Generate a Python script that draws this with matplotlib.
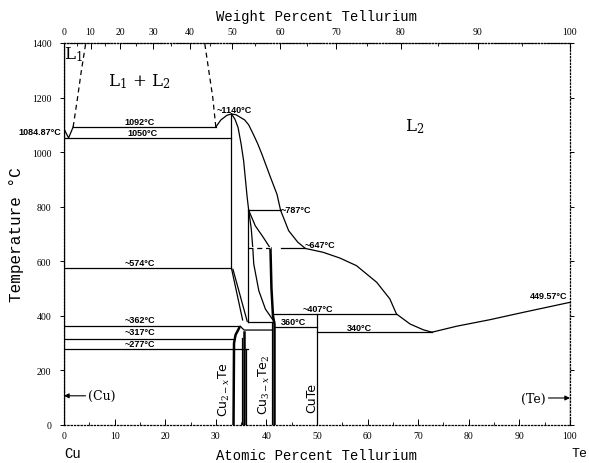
import matplotlib.pyplot as plt
import numpy as np

plt.rcParams['mathtext.fontset'] = 'dejavuserif'

# --- data (x = at.% Te, T = degC) ---
cu_liq_x = [0, 0.9, 1.8]
cu_liq_t = [1084.87, 1052, 1092]

gap_left_x = [1.8, 2.6, 3.4, 4.3]
gap_left_t = [1092, 1190, 1295, 1400]
gap_right_x = [30.0, 29.4, 28.6, 27.8]
gap_right_t = [1092, 1200, 1300, 1400]

dome_left_x = [30.0, 31.0, 32.2, 33.1]
dome_left_t = [1092, 1118, 1135, 1140]

liq_x = [33.1, 34.0, 34.8, 35.7, 36.5, 37.4, 38.3, 39.1, 40.7, 42.1, 42.8, 44.4, 46.2, 47.7,
         51.2, 54.5, 57.8, 61.8, 64.4, 65.7, 68.4, 71.0, 72.7]
liq_t = [1140, 1137, 1128, 1118, 1100, 1066, 1030, 993, 913, 845, 787, 712, 670, 647,
         633, 612, 584, 523, 462, 407, 370, 349, 340]

te_liq_x = [72.7, 77.6, 84.2, 90.8, 100]
te_liq_t = [340, 362, 386, 413, 449.57]

inner_x = [33.1, 33.8, 34.4, 35.0, 35.5, 36.2, 36.5]
inner_t = [1140, 1120, 1090, 1030, 968, 834, 787]

c1_x = [36.5, 37.0, 37.3, 37.5, 38.5, 39.8, 41.1, 41.6]
c1_t = [787, 720, 651, 590, 492, 425, 390, 378]
c2_x = [36.5, 37.8, 39.3, 40.8]
c2_t = [787, 730, 690, 647]

cu3_thick_x = [40.8, 41.0, 41.3, 41.6, 41.6]
cu3_thick_t = [647, 500, 400, 370, 0]

slant1_x = [33.1, 35.3]
slant1_t = [574, 385]
slant2_x = [33.4, 36.2]
slant2_t = [570, 380]

cu2_left_x = [34.6, 33.9, 33.6, 33.5]
cu2_left_t = [355, 330, 300, 0]
cu2_junc_x = [34.8, 35.6, 41.2]
cu2_junc_t = [362, 348, 348]

# horizontal invariant lines: (x0, x1, T)
iso_x0 = [1.8, 0, 0, 0, 0, 0, 36.3, 42.8, 36.3, 41.2, 41.6, 50]
iso_x1 = [30.0, 33.1, 33.1, 34.8, 33.6, 36.3, 42.8, 47.7, 41.2, 65.7, 50, 72.7]
iso_t = [1092, 1050, 574, 362, 317, 277, 787, 647, 378, 407, 360, 340]

# vertical lines: (x, T0, T1)
vert_x = [33.1, 36.3, 41.2, 50, 35.1, 35.5, 36.0]
vert_t0 = [574, 378, 0, 0, 0, 0, 0]
vert_t1 = [1140, 787, 378, 407, 320, 340, 277]
vert_lw = [0.9, 0.9, 0.9, 0.9, 0.9, 1.8, 0.9]

labels = ['1092°C', '1050°C', '~1140°C', '~787°C', '~647°C', '~574°C',
          '~362°C', '~317°C', '~277°C', '360°C', '~407°C', '340°C']
label_x = [15.0, 15.5, 30.2, 42.9, 47.5, 15.0, 15.0, 15.0, 15.0, 45.4, 50.2, 58.3]
label_t = [1112, 1071, 1155, 790, 662, 595, 388, 341, 298, 378, 428, 358]
label_ha = ['center', 'center', 'left', 'left', 'left', 'center',
            'center', 'center', 'center', 'center', 'center', 'center']

wt_ticks = list(range(0, 101, 10))
at_ticks = list(range(0, 101, 10))
t_ticks = list(range(0, 1401, 200))

M_CU, M_TE = 63.546, 127.6


def at2wt(a):
    a = np.asarray(a, dtype=float)
    with np.errstate(divide='ignore', invalid='ignore'):
        return 100 * a * M_TE / (a * M_TE + (100 - a) * M_CU)


def wt2at(w):
    w = np.asarray(w, dtype=float)
    with np.errstate(divide='ignore', invalid='ignore'):
        return 100 * (w / M_TE) / (w / M_TE + (100 - w) / M_CU)


dpi = 100
fig = plt.figure(figsize=(589 / dpi, 464 / dpi), dpi=dpi)
ax = fig.add_axes([0.1087, 0.0819, 0.859, 0.8233])
ax.set_xlim(0, 100)
ax.set_ylim(0, 1400)

lw = 0.9
k = 'black'
ax.plot(cu_liq_x, cu_liq_t, color=k, lw=lw)
ax.plot(gap_left_x, gap_left_t, color=k, lw=lw, ls=(0, (4, 3)))
ax.plot(gap_right_x, gap_right_t, color=k, lw=lw, ls=(0, (4, 3)))
ax.plot(dome_left_x, dome_left_t, color=k, lw=lw)
ax.plot(liq_x, liq_t, color=k, lw=lw)
ax.plot(te_liq_x, te_liq_t, color=k, lw=lw)
ax.plot(inner_x, inner_t, color=k, lw=lw)
ax.plot(c1_x, c1_t, color=k, lw=lw)
ax.plot(c2_x, c2_t, color=k, lw=lw)
ax.plot(cu3_thick_x, cu3_thick_t, color=k, lw=1.8)
ax.plot(slant1_x, slant1_t, color=k, lw=lw)
ax.plot(slant2_x, slant2_t, color=k, lw=lw)
ax.plot(cu2_left_x, cu2_left_t, color=k, lw=1.8)
ax.plot(cu2_junc_x, cu2_junc_t, color=k, lw=lw)

for x0, x1, t in zip(iso_x0, iso_x1, iso_t):
    ax.plot([x0, x1], [t, t], color=k, lw=lw)
# dashed part of the 647 line
ax.plot([36.3, 40.8], [647, 647], color='white', lw=1.5)
ax.plot([36.3, 40.8], [647, 647], color=k, lw=lw, ls=(0, (4, 3)))

for x, t0, t1, w in zip(vert_x, vert_t0, vert_t1, vert_lw):
    ax.plot([x, x], [t0, t1], color=k, lw=w)

# pure elements
ax.plot([0, 0], [0, 1400], color=k, lw=lw)
ax.plot([100, 100], [0, 449.57], color=k, lw=lw)

for s, x, t, ha in zip(labels, label_x, label_t, label_ha):
    ax.text(x, t, s, fontsize=6.5, fontweight='bold', family='Liberation Sans',
            ha=ha, va='center')
ax.text(-0.6, 1077, '1084.87°C', fontsize=6.5, fontweight='bold',
        family='Liberation Sans', ha='right', va='center', clip_on=False)
ax.text(99.4, 474, '449.57°C', fontsize=6.5, fontweight='bold',
        family='Liberation Sans', ha='right', va='center')

ax.text(1.8, 1360, r'L$_1$', fontsize=12, family='DejaVu Serif', ha='center', va='center')
ax.text(15.0, 1262, r'L$_1$ + L$_2$', fontsize=12, family='DejaVu Serif', ha='center', va='center')
ax.text(69.4, 1098, r'L$_2$', fontsize=12, family='DejaVu Serif', ha='center', va='center')

phase_font = dict(fontsize=9, family='DejaVu Sans', rotation=90, ha='center', va='center')
ax.text(31.8, 135, r'Cu$_{2-x}$Te', **phase_font)
ax.text(39.6, 150, r'Cu$_{3-x}$Te$_2$', **phase_font)
ax.text(48.9, 103, 'CuTe', **phase_font)

ax.annotate('(Cu)', xy=(0, 107), xytext=(4.8, 107), fontsize=9, family='DejaVu Serif',
            va='center', ha='left',
            arrowprops=dict(arrowstyle='-|>', color=k, lw=0.8, mutation_scale=7,
                            shrinkA=0, shrinkB=0))
ax.annotate('(Te)', xy=(100, 99), xytext=(95.2, 99), fontsize=9, family='DejaVu Serif',
            va='center', ha='right',
            arrowprops=dict(arrowstyle='-|>', color=k, lw=0.8, mutation_scale=7,
                            shrinkA=0, shrinkB=0))

# axes styling
for sp in ax.spines.values():
    sp.set_linestyle(':')
    sp.set_linewidth(0.9)

tick_font = dict(family='Liberation Serif', size=7)
ax.set_xticks(at_ticks)
ax.set_xticklabels([str(v) for v in at_ticks], fontdict=tick_font)
ax.set_xticks(range(0, 101, 5), minor=True)
ax.set_yticks(t_ticks)
ax.set_yticklabels([str(v) for v in t_ticks], fontdict=tick_font)
ax.tick_params(axis='x', which='both', direction='in', pad=4)
ax.tick_params(axis='x', which='major', length=4, width=0.7)
ax.tick_params(axis='x', which='minor', length=2, width=0.6)
ax.tick_params(axis='y', which='major', direction='out', length=3, width=0.7, pad=6,
               right=True)

top = ax.secondary_xaxis('top', functions=(at2wt, wt2at))
top.set_xticks(wt_ticks)
top.set_xticklabels([str(v) for v in wt_ticks], fontdict=tick_font)
top.set_xticks(range(0, 101, 5), minor=True)
top.tick_params(axis='x', which='both', direction='in', pad=5)
top.tick_params(axis='x', which='major', length=4, width=0.7)
top.tick_params(axis='x', which='minor', length=2, width=0.6)
top.spines['top'].set_linestyle(':')
top.set_xlabel('Weight Percent Tellurium', family='Liberation Mono', fontsize=10,
               labelpad=5)

ax.set_xlabel('Atomic Percent Tellurium', family='Liberation Mono', fontsize=10,
              labelpad=6)
ax.set_ylabel('Temperature °C', family='Liberation Mono', fontsize=11.5, labelpad=6)
ax.text(0, -0.074, 'Cu', transform=ax.transAxes, family='Liberation Mono',
        fontsize=10, ha='left', va='center')
ax.text(1.003, -0.074, 'Te', transform=ax.transAxes, family='Liberation Mono',
        fontsize=9.5, ha='left', va='center')

fig.savefig('out.png', dpi=dpi)
